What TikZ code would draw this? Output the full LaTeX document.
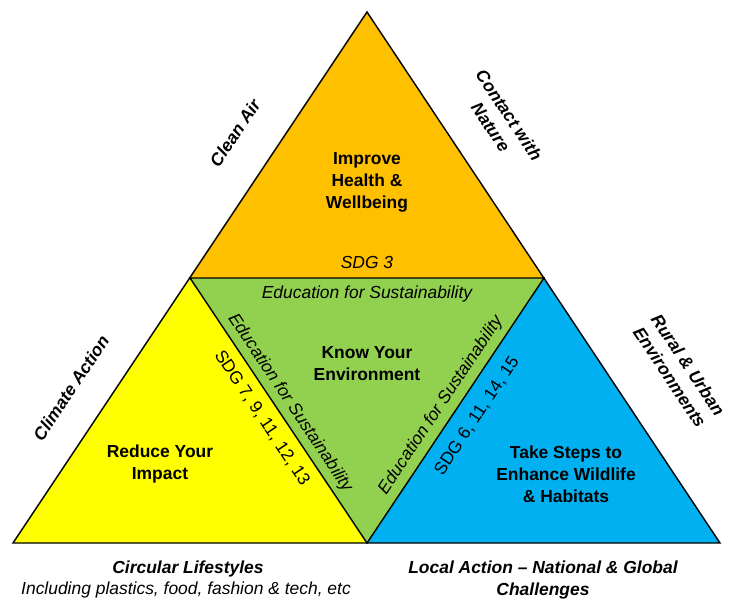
\documentclass[tikz,border=0pt]{standalone}
\usepackage{fontspec}
\setmainfont{Liberation Sans}
\usepackage{tikz}
\usepackage{xcolor}

\definecolor{healthorange}{HTML}{FFC000}
\definecolor{impactyellow}{HTML}{FFFF00}
\definecolor{knowgreen}{HTML}{92D050}
\definecolor{wildblue}{HTML}{00B0F0}

\begin{document}
\begin{tikzpicture}[x=0.025cm,y=-0.025cm,
  tri/.style={draw=black,line width=1pt},
  head/.style={font=\fontsize{12.4}{15.6}\selectfont\bfseries,align=center},
  note/.style={font=\fontsize{12.4}{15.6}\selectfont\itshape,align=center},
  side/.style={font=\fontsize{12.4}{15.6}\selectfont\bfseries\itshape,align=center}]
  \useasboundingbox (0,0) rectangle (736,599);

  % corners and edge midpoints
  \coordinate (top) at (367,12);
  \coordinate (bl) at (13,543);
  \coordinate (br) at (720,543);
  \coordinate (ml) at (190,278);
  \coordinate (mr) at (544,278);
  \coordinate (mb) at (367,543);

  \fill[healthorange] (top) -- (ml) -- (mr) -- cycle;
  \fill[impactyellow] (ml) -- (bl) -- (mb) -- cycle;
  \fill[knowgreen] (ml) -- (mr) -- (mb) -- cycle;
  \fill[wildblue] (mr) -- (mb) -- (br) -- cycle;

  \draw[tri] (top) -- (bl) -- (br) -- cycle;
  \draw[tri] (ml) -- (mr) -- (mb) -- cycle;

  % top triangle
  \node[head] (health) at (367,182) {Improve\\Health \&\\Wellbeing};
  \node[note] (sdgthree) at (367,262) {SDG 3};

  % middle triangle
  \node[note] (eduTop) at (367,294) {Education for Sustainability};
  \node[head] (know) at (367,364) {Know Your\\Environment};
  \node[note,rotate=-56.3] (eduLeft) at (290,403) {Education for Sustainability};
  \node[note,rotate=56.3] (eduRight) at (441,405) {Education for Sustainability};

  % left triangle
  \node[head] (reduce) at (160,464) {Reduce Your\\Impact};
  \node[note,font=\fontsize{12.4}{15.6}\selectfont,rotate=-56.3] (sdgLeft) at (262,418) {SDG 7, 9, 11, 12, 13};

  % right triangle
  \node[head] (steps) at (566,474) {Take Steps to\\Enhance Wildlife\\\& Habitats};
  \node[note,font=\fontsize{12.4}{15.6}\selectfont,rotate=56.3] (sdgRight) at (477,416) {SDG 6, 11, 14, 15};

  % outside labels
  \node[side,rotate=56.3] (cleanair) at (235,133) {Clean Air};
  \node[side,rotate=-56.3] (nature) at (500,121) {Contact with\\Nature};
  \node[side,rotate=56.3] (climate) at (71,388) {Climate Action};
  \node[side,rotate=-56.3] (rural) at (679,371) {Rural \& Urban\\Environments};

  \node[side] (circular) at (188,569) {Circular Lifestyles};
  \node[note,inner sep=0pt] (including) at (186,590) {Including plastics, food, fashion \& tech, etc};
  \node[side] (local) at (543,580) {Local Action -- National \& Global\\Challenges};
\end{tikzpicture}
\end{document}
